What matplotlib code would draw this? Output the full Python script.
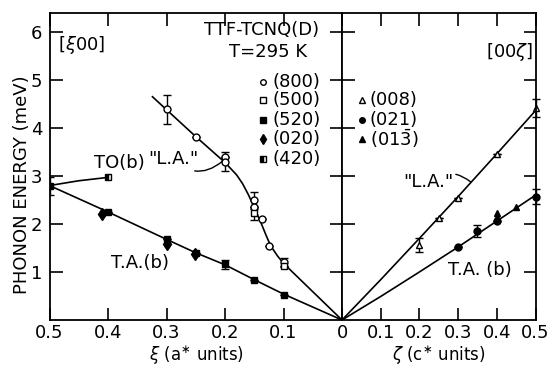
import numpy as np
import matplotlib
matplotlib.use('Agg')
import matplotlib.pyplot as plt

plt.rcParams['font.family'] = 'DejaVu Sans'
plt.rcParams['mathtext.fontset'] = 'dejavusans'

# ---- [xi 0 0] panel data ----
xi_520 = [0.5, 0.4, 0.3, 0.25, 0.2, 0.15, 0.1]
E_520 = [2.79, 2.25, 1.68, 1.39, 1.16, 0.83, 0.53]
err_520 = [0.18, 0, 0, 0, 0.1, 0, 0]

xi_020 = [0.41, 0.3, 0.252]
E_020 = [2.2, 1.58, 1.37]

xi_420 = [0.4]
E_420 = [2.97]

xi_800 = [0.3, 0.25, 0.2, 0.2, 0.15, 0.15, 0.137, 0.125, 0.1]
E_800 = [4.39, 3.81, 3.4, 3.3, 2.49, 2.36, 2.1, 1.54, 1.2]
err_800 = [0.3, 0, 0, 0.2, 0.17, 0, 0, 0, 0.1]

xi_500 = [0.15, 0.1]
E_500 = [2.22, 1.13]
err_500 = [0.13, 0]

# guide curves
la_xi = [0.324, 0.3, 0.25, 0.2, 0.18, 0.17, 0.16, 0.15, 0.14, 0.135, 0.13, 0.125, 0.12, 0.11, 0.1, 0.0]
la_E = [4.65, 4.38, 3.82, 3.28, 3.02, 2.84, 2.61, 2.34, 2.07, 1.92, 1.77, 1.63, 1.51, 1.33, 1.18, 0.0]
to_xi = [0.5, 0.45, 0.4]
to_E = [2.8, 2.9, 2.97]
ta_xi = [0.5, 0.4, 0.3, 0.25, 0.2, 0.15, 0.1, 0.0]
ta_E = [2.8, 2.25, 1.68, 1.4, 1.15, 0.84, 0.54, 0.0]

# ---- [0 0 zeta] panel data ----
z_008 = [0.2, 0.25, 0.3, 0.4, 0.5]
E_008 = [1.56, 2.12, 2.54, 3.46, 4.41]
err_008 = [0.15, 0, 0, 0, 0.19]

z_021 = [0.3, 0.35, 0.4, 0.5]
E_021 = [1.53, 1.85, 2.06, 2.57]
err_021 = [0, 0.12, 0, 0.15]

z_013 = [0.4, 0.4, 0.45]
E_013 = [2.23, 2.15, 2.36]

lar_z = [0.0, 0.1, 0.2, 0.3, 0.4, 0.5]
lar_E = [0.0, 0.84, 1.7, 2.57, 3.46, 4.36]
tar_z = [0.0, 0.1, 0.2, 0.3, 0.4, 0.5]
tar_E = [0.0, 0.49, 1.0, 1.52, 2.06, 2.6]

FS = 13
LW = 1.2
ms = 5

fig = plt.figure(figsize=(5.49, 3.66), dpi=100)
axL = fig.add_axes([49.5/549, 1-320/366, (342-49.5)/549, (320-12.7)/366])
axR = fig.add_axes([342/549, 1-320/366, (535.5-342)/549, (320-12.7)/366])

for ax in (axL, axR):
    ax.set_ylim(0, 6.4)
    for s in ax.spines.values():
        s.set_linewidth(1.3)
    ax.tick_params(direction='in', length=9, width=1.2, top=True, labelsize=FS, pad=3)

# left panel
axL.set_xlim(0.5, 0.0)
axL.set_xticks([0.5, 0.4, 0.3, 0.2, 0.1])
axL.set_xticklabels(['0.5', '0.4', '0.3', '0.2', '0.1'])
axL.set_yticks([1, 2, 3, 4, 5, 6])
axL.set_yticklabels(['1', '2', '3', '4', '5', '6'])
axL.tick_params(axis='y', left=True, right=True, pad=5)

axL.plot(la_xi, la_E, color='black', lw=LW)
axL.plot(to_xi, to_E, color='black', lw=LW)
axL.plot(ta_xi, ta_E, color='black', lw=LW)

ekw = dict(ecolor='black', elinewidth=1.0, capsize=3, capthick=1.0, linestyle='none')
axL.errorbar(xi_520, E_520, yerr=err_520, marker='s', ms=ms, mfc='black', mec='black', **ekw)
axL.errorbar(xi_800, E_800, yerr=err_800, marker='o', ms=ms, mfc='white', mec='black', mew=1.0, **ekw)
axL.errorbar(xi_500, E_500, yerr=err_500, marker='s', ms=ms, mfc='white', mec='black', mew=1.0, **ekw)
axL.plot(xi_020, E_020, 'd', ms=ms+1, mfc='black', mec='black', ls='none')
axL.plot(xi_420, E_420, 's', ms=ms, fillstyle='left', mfc='black', mfcalt='white', mec='black', ls='none')

axL.text(0.486, 5.73, r'[$\xi$00]', fontsize=FS, ha='left', va='center')
axL.text(0.137, 6.04, 'TTF-TCNQ(D)', fontsize=FS, ha='center', va='center')
axL.text(0.127, 5.58, 'T=295 K', fontsize=FS, ha='center', va='center')

leg_y = [4.96, 4.58, 4.17, 3.77, 3.35]
leg_lbl = ['(800)', '(500)', '(520)', '(020)', '(420)']
axL.plot(0.135, leg_y[0], 'o', ms=4, mfc='white', mec='black', mew=1.0)
axL.plot(0.135, leg_y[1], 's', ms=4, mfc='white', mec='black', mew=1.0)
axL.plot(0.135, leg_y[2], 's', ms=4.5, mfc='black', mec='black')
axL.plot(0.135, leg_y[3], 'd', ms=5, mfc='black', mec='black')
axL.plot(0.135, leg_y[4], 's', ms=4.5, fillstyle='left', mfc='black', mfcalt='white', mec='black')
for y, t in zip(leg_y, leg_lbl):
    axL.text(0.118, y, t, fontsize=FS, ha='left', va='center')

axL.text(0.38, 3.27, 'TO(b)', fontsize=FS, ha='center', va='center')
axL.text(0.346, 1.19, 'T.A.(b)', fontsize=FS, ha='center', va='center')
axL.annotate('"L.A."', xy=(0.203, 3.32), xytext=(0.289, 3.35), fontsize=FS,
             ha='center', va='center',
             arrowprops=dict(arrowstyle='-', lw=1.0, color='black',
                             connectionstyle='arc3,rad=0.45', shrinkA=0, shrinkB=1))

# right panel
axR.set_xlim(0.0, 0.5)
axR.set_xticks([0.0, 0.1, 0.2, 0.3, 0.4, 0.5])
axR.set_xticklabels(['0', '0.1', '0.2', '0.3', '0.4', '0.5'])
axR.set_yticks([1, 2, 3, 4, 5, 6])
axR.tick_params(axis='y', left=True, right=True, labelleft=False)

axR.plot(lar_z, lar_E, color='black', lw=LW)
axR.plot(tar_z, tar_E, color='black', lw=LW)
axR.errorbar(z_008, E_008, yerr=err_008, marker='^', ms=ms, mfc='white', mec='black', mew=1.0, clip_on=False, **ekw)
axR.errorbar(z_021, E_021, yerr=err_021, marker='o', ms=ms, mfc='black', mec='black', clip_on=False, **ekw)
axR.plot(z_013, E_013, '^', ms=ms, mfc='black', mec='black', ls='none')

axR.text(0.434, 5.58, r'[00$\zeta$]', fontsize=FS, ha='center', va='center')
leg_y2 = [4.58, 4.17, 3.77]
axR.plot(0.052, leg_y2[0], '^', ms=4, mfc='white', mec='black', mew=1.0)
axR.plot(0.052, leg_y2[1], 'o', ms=4, mfc='black', mec='black')
axR.plot(0.052, leg_y2[2], '^', ms=4.5, mfc='black', mec='black')
for y, t in zip(leg_y2, ['(008)', '(021)', r'(01$\bar{3}$)']):
    axR.text(0.072, y, t, fontsize=FS, ha='left', va='center')

axR.text(0.357, 1.04, 'T.A. (b)', fontsize=FS, ha='center', va='center')
axR.annotate('"L.A."', xy=(0.335, 2.86), xytext=(0.222, 2.875), fontsize=FS,
             ha='center', va='center',
             arrowprops=dict(arrowstyle='-', lw=1.0, color='black',
                             connectionstyle='arc3,rad=-0.4', shrinkA=0, shrinkB=1))

fig.text(196/549, 1-356/366, r'$\xi$ (a$^{\ast}$ units)', fontsize=12, ha='center', va='center')
fig.text(439/549, 1-356/366, r'$\zeta$ (c$^{\ast}$ units)', fontsize=12, ha='center', va='center')
fig.text(22/549, 1-185/366, 'PHONON ENERGY (meV)', fontsize=FS, rotation=90, ha='center', va='center')

fig.savefig('out.png', dpi=100)
